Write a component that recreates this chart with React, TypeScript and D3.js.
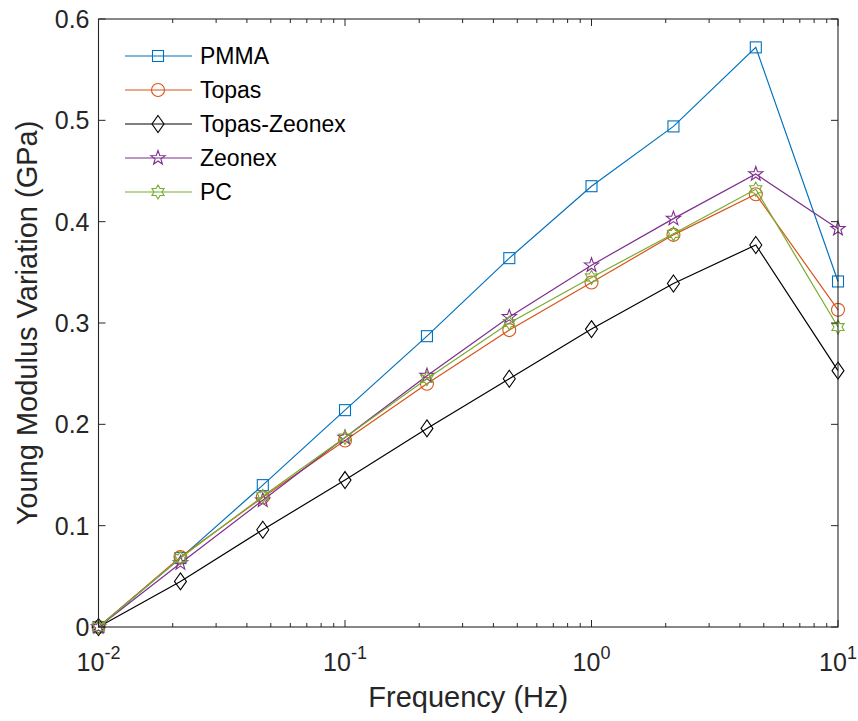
import React from 'react';
import * as d3 from 'd3';

// frequencies (Hz), 3 points per decade
const freqs = [0.01, 0.0215, 0.0464, 0.1, 0.215, 0.464, 1, 2.15, 4.64, 10];

const pmma = [0, 0.068, 0.14, 0.214, 0.287, 0.364, 0.435, 0.494, 0.572, 0.341];
const topas = [0, 0.069, 0.128, 0.184, 0.240, 0.293, 0.340, 0.387, 0.427, 0.313];
const topasZeonex = [0, 0.045, 0.096, 0.145, 0.196, 0.245, 0.294, 0.339, 0.377, 0.253];
const zeonex = [0, 0.063, 0.125, 0.187, 0.248, 0.306, 0.357, 0.403, 0.447, 0.393];
const pc = [0, 0.068, 0.129, 0.187, 0.245, 0.300, 0.345, 0.388, 0.432, 0.296];

const seriesNames = ['PMMA', 'Topas', 'Topas-Zeonex', 'Zeonex', 'PC'];
const seriesValues = [pmma, topas, topasZeonex, zeonex, pc];
const seriesColors = ['#0072BD', '#D95319', '#000000', '#7E2F8E', '#77AC30'];
const seriesMarkers = ['square', 'circle', 'diamond', 'pentagram', 'hexagram'];

const yTicks = [0, 0.1, 0.2, 0.3, 0.4, 0.5, 0.6];
const xTicks = [0.01, 0.1, 1, 10];
const xTickExp = ['-2', '-1', '0', '1'];

const W = 858;
const H = 721;
const margin = { top: 19, right: 20, bottom: 94, left: 98.5 };
const axisColor = '#262626';
const font = '"Liberation Sans", Arial, Helvetica, sans-serif';

const starPath = (n: number, R: number, r: number) => {
  const pts: [number, number][] = [];
  for (let i = 0; i < n * 2; i++) {
    const a = -Math.PI / 2 + (i * Math.PI) / n;
    const rad = i % 2 === 0 ? R : r;
    pts.push([rad * Math.cos(a), rad * Math.sin(a)]);
  }
  return d3.line()(pts) + 'Z';
};

const Marker = ({ type, color }: { type: string; color: string }) => {
  const common = { fill: 'none', stroke: color, strokeWidth: 1.1 };
  if (type === 'square') return <rect x={-5.5} y={-5.5} width={11} height={11} {...common} />;
  if (type === 'circle') return <circle r={6.5} {...common} />;
  if (type === 'diamond') return <path d="M0,-8.5L6,0L0,8.5L-6,0Z" {...common} />;
  if (type === 'pentagram') return <path d={starPath(5, 7.5, 3)} {...common} />;
  return <path d={starPath(6, 7, 4)} {...common} />;
};

export default function App() {
  const x = d3.scaleLog().domain([0.01, 10]).range([margin.left, W - margin.right]);
  const y = d3.scaleLinear().domain([0, 0.6]).range([H - margin.bottom, margin.top]);
  const [x0, x1] = x.range();
  const [y0, y1] = y.range();

  const minorTicks: number[] = [];
  [0.01, 0.1, 1].forEach((d) => {
    for (let k = 2; k <= 9; k++) minorTicks.push(d * k);
  });

  const line = d3
    .line<number>()
    .x((_, i) => x(freqs[i]))
    .y((d) => y(d));

  return (
    <svg
      width={W}
      height={H}
      style={{ position: 'absolute', left: 0, top: 0, background: '#fff' }}
      fontFamily={font}
    >
      {/* data */}
      {seriesValues.map((vals, si) => (
        <g key={seriesNames[si]}>
          <path d={line(vals) || ''} fill="none" stroke={seriesColors[si]} strokeWidth={1.2} />
          {vals.map((v, i) => (
            <g key={i} transform={`translate(${x(freqs[i])},${y(v)})`}>
              <Marker type={seriesMarkers[si]} color={seriesColors[si]} />
            </g>
          ))}
        </g>
      ))}

      {/* axes box */}
      <rect x={x0} y={y1} width={x1 - x0} height={y0 - y1} fill="none" stroke={axisColor} strokeWidth={1.1} />

      {/* y ticks */}
      {yTicks.map((t) => (
        <g key={t}>
          <line x1={x0} x2={x0 + 7} y1={y(t)} y2={y(t)} stroke={axisColor} />
          <line x1={x1} x2={x1 - 7} y1={y(t)} y2={y(t)} stroke={axisColor} />
          <text x={x0 - 9} y={y(t)} dy="0.36em" textAnchor="end" fontSize={25} fill={axisColor}>
            {t === 0 ? '0' : t.toFixed(1)}
          </text>
        </g>
      ))}

      {/* x ticks */}
      {xTicks.map((t, i) => (
        <g key={t}>
          <line x1={x(t)} x2={x(t)} y1={y0} y2={y0 - 7} stroke={axisColor} />
          <line x1={x(t)} x2={x(t)} y1={y1} y2={y1 + 7} stroke={axisColor} />
          <text x={x(t)} y={y0 + 44} textAnchor="middle" fill={axisColor} fontSize={25}>
            10
            <tspan fontSize={18} dy={-12}>
              {xTickExp[i]}
            </tspan>
          </text>
        </g>
      ))}
      {minorTicks.map((t) => (
        <g key={t}>
          <line x1={x(t)} x2={x(t)} y1={y0} y2={y0 - 4} stroke={axisColor} />
          <line x1={x(t)} x2={x(t)} y1={y1} y2={y1 + 4} stroke={axisColor} />
        </g>
      ))}

      {/* axis labels */}
      <text x={(x0 + x1) / 2} y={707} textAnchor="middle" fontSize={29} fill={axisColor}>
        Frequency (Hz)
      </text>
      <text
        transform={`translate(37,${(y0 + y1) / 2}) rotate(-90)`}
        textAnchor="middle"
        fontSize={29}
        fill={axisColor}
      >
        Young Modulus Variation (GPa)
      </text>

      {/* legend */}
      {seriesNames.map((name, i) => {
        const ly = 56 + i * 34;
        return (
          <g key={name}>
            <line x1={125} x2={192} y1={ly} y2={ly} stroke={seriesColors[i]} strokeWidth={1.2} />
            <g transform={`translate(158,${ly})`}>
              <Marker type={seriesMarkers[i]} color={seriesColors[i]} />
            </g>
            <text x={200} y={ly} dy="0.36em" fontSize={23} fill="#000">
              {name}
            </text>
          </g>
        );
      })}
    </svg>
  );
}
